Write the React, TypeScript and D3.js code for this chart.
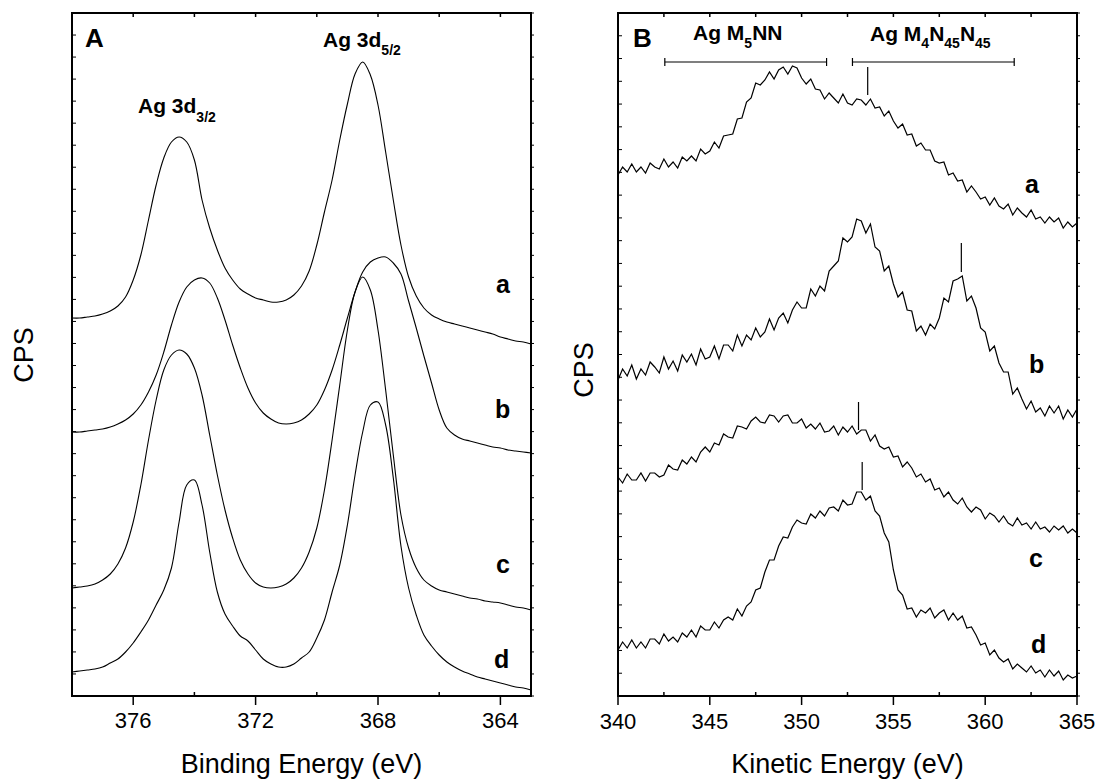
import React from 'react';
import * as d3 from 'd3';

// Panel A: binding energy grid (eV) and curves a-d (CPS, arbitrary offset units)
const BE_A: number[] = d3.range(61).map((i) => +(378 - i * 0.25).toFixed(2));
const A_a = [378,378,379,380,382,385,390,399,416,441,476,511,538,554,559,554,536,496,468,446,428,416,407,402,398,396,394,394,396,401,410,425,451,484,516,556,592,622,634,621,591,544,496,451,419,400,388,381,377,374,372,370,368,366,364,362,359,357,355,354,352];
const A_b = [264,264,265,266,267,269,272,276,282,291,304,321,344,371,394,409,416,418,413,398,376,351,328,308,293,283,277,273,272,273,276,282,291,306,326,351,378,404,424,434,438,439,433,422,395,368,340,313,286,268,261,257,255,253,251,249,248,246,245,244,243];
const A_c = [108,109,110,112,116,122,132,148,174,211,256,296,326,341,346,342,328,301,261,221,186,158,136,122,113,109,108,109,112,118,128,144,168,206,256,311,366,404,419,406,366,306,241,181,148,128,116,110,106,104,102,100,98,97,95,94,93,91,89,88,86];
const A_d = [24,25,26,27,29,33,37,44,53,64,76,91,106,128,174,211,216,191,144,104,82,70,60,55,46,37,32,29,29,32,38,44,58,76,104,131,171,221,264,291,294,271,218,150,108,81,61,50,41,34,29,25,22,19,17,15,13,11,9,8,6];

// Panel B: kinetic energy grid (eV) and curves a-d
const KE_B: number[] = d3.range(101).map((i) => 340 + i * 0.25);
const B_a = [
  521,529,524,532,524,529,523,533,529,527,
  537,529,534,528,539,535,540,535,547,542,
  545,554,548,560,561,562,577,578,594,598,
  613,611,616,624,617,626,629,622,630,628,
  618,612,617,607,606,597,603,598,593,602,
  593,591,597,596,591,597,588,589,580,585,
  575,568,572,561,562,550,553,546,546,535,
  533,534,521,523,515,516,504,510,504,497,
  499,491,498,490,487,492,481,488,483,479,
  486,477,479,473,479,474,478,468,474,469,
  473];
const B_b = [
  316,327,320,331,317,327,321,334,329,323,
  339,327,335,325,341,334,342,331,347,337,
  339,350,337,351,351,345,361,350,361,356,
  368,359,364,377,366,378,383,373,386,394,
  388,388,407,400,410,405,425,430,435,458,
  454,459,477,475,463,472,449,445,425,430,
  412,399,404,386,385,365,370,361,372,367,
  378,398,394,415,417,420,395,400,388,368,
  364,345,350,333,324,324,302,308,297,287,
  295,284,288,280,290,283,290,277,286,279,
  287];
const B_c = [
  219,213,222,216,216,223,215,223,223,219,
  221,231,227,226,236,232,239,234,244,249,
  244,253,251,262,259,258,270,269,267,275,
  279,274,273,281,280,274,280,281,273,273,
  277,268,272,267,273,264,265,270,261,269,
  264,270,262,266,266,255,261,250,247,249,
  239,240,229,234,228,219,222,214,217,206,
  208,199,204,196,192,198,189,184,189,186,
  177,183,180,174,180,173,170,178,171,173,
  167,174,167,169,164,170,166,170,163,167,
  163];
const B_d = [
  46,54,48,56,48,54,48,57,57,52,
  62,55,59,54,63,59,66,59,70,66,
  66,74,68,76,79,76,87,80,90,94,
  106,108,124,136,136,150,159,158,169,176,
  173,172,182,178,185,180,188,189,185,196,
  191,192,204,204,196,200,185,180,163,154,
  126,106,101,87,88,79,86,83,88,78,
  83,86,76,83,76,80,68,69,61,51,
  53,41,46,38,34,37,27,32,28,24,
  30,23,26,19,26,20,25,16,21,18,
  20];

// Axis ticks
const A_MAJOR = [376, 372, 368, 364];
const A_MINOR = [374, 370, 366];
const A_TOP = [376, 374, 372, 370, 368, 366, 364];
const B_MAJOR = [340, 345, 350, 355, 360, 365];
const B_MINOR = [342.5, 347.5, 352.5, 357.5, 362.5];
const B_TOP = [342.5, 345, 347.5, 350, 352.5, 355, 357.5, 360, 362.5];

// Panel B annotations (energy, CPS range)
const B_MARKS = [
  { e: 353.6, lo: 601, hi: 629 },
  { e: 358.7, lo: 424, hi: 453 },
  { e: 353.1, lo: 266, hi: 294 },
  { e: 353.3, lo: 206, hi: 234 },
];
const B_BRACKETS = [
  { from: 342.55, to: 351.36, level: 634 },
  { from: 352.77, to: 361.58, level: 634 },
];

const FONT = "'Liberation Sans', Arial, Helvetica, sans-serif";

export default function App() {
  const W = 1099, H = 781;
  const top = 13, bottom = 696;
  const y = d3.scaleLinear().domain([0, 683]).range([bottom, top]);
  const xA = d3.scaleLinear().domain([378, 363]).range([72, 531]);
  const xB = d3.scaleLinear().domain([340, 365]).range([618, 1077]);

  const lineA = d3.line<number>().x((_, i) => xA(BE_A[i])).y((v) => y(v)).curve(d3.curveCatmullRom);
  const lineB = d3.line<number>().x((_, i) => xB(KE_B[i])).y((v) => y(v));

  const yTicksA = d3.range(32).map((k) => (k * 683) / 31);
  const yTicksB = d3.range(31).map((k) => (k * 683) / 30);

  const frame = (x0: number, x1: number) => (
    <rect x={x0} y={top} width={x1 - x0} height={bottom - top} fill="none" stroke="#000" strokeWidth={2} />
  );

  const sideTicks = (x0: number, x1: number, ticks: number[]) => (
    <g stroke="#000" strokeWidth={1}>
      {ticks.map((t, i) => (
        <g key={i}>
          <line x1={x0} x2={x0 + 4} y1={y(t)} y2={y(t)} />
          <line x1={x1} x2={x1 + 3} y1={y(t)} y2={y(t)} />
        </g>
      ))}
    </g>
  );

  return (
    <svg width={W} height={H} style={{ position: 'absolute', left: 0, top: 0, background: '#fff' }} fontFamily={FONT}>
      <rect x={0} y={0} width={W} height={H} fill="#fff" />

      {/* ---------- Panel A ---------- */}
      <g>
        {[A_a, A_b, A_c, A_d].map((s, i) => (
          <path key={i} d={lineA(s) || ''} fill="none" stroke="#000" strokeWidth={1.1} />
        ))}
        {frame(72, 531)}
        {sideTicks(72, 531, yTicksA)}
        <g stroke="#000" strokeWidth={1.5}>
          {A_MAJOR.map((t) => (
            <line key={t} x1={xA(t)} x2={xA(t)} y1={bottom} y2={bottom + 9} />
          ))}
          {A_MINOR.map((t) => (
            <line key={t} x1={xA(t)} x2={xA(t)} y1={bottom} y2={bottom - 4} />
          ))}
          {A_TOP.map((t) => (
            <line key={t} x1={xA(t)} x2={xA(t)} y1={top} y2={top + 4} />
          ))}
        </g>
        <g fontSize={22} textAnchor="middle" fill="#000">
          {A_MAJOR.map((t) => (
            <text key={t} x={xA(t)} y={728}>{t}</text>
          ))}
        </g>
        <text x={301.5} y={773} fontSize={27} textAnchor="middle">Binding Energy (eV)</text>
        <text transform="translate(33,355) rotate(-90)" fontSize={27} textAnchor="middle">CPS</text>

        <text x={85} y={47} fontSize={26} fontWeight="bold">A</text>
        <text x={138} y={113} fontSize={21} fontWeight="bold">
          Ag 3d<tspan fontSize={14} dy={9}>3/2</tspan>
        </text>
        <text x={323} y={47} fontSize={21} fontWeight="bold">
          Ag 3d<tspan fontSize={14} dy={8}>5/2</tspan>
        </text>
        <g fontSize={25} fontWeight="bold">
          <text x={496} y={293}>a</text>
          <text x={495} y={418}>b</text>
          <text x={496} y={573}>c</text>
          <text x={494} y={668}>d</text>
        </g>
      </g>

      {/* ---------- Panel B ---------- */}
      <g>
        {[B_a, B_b, B_c, B_d].map((s, i) => (
          <path key={i} d={lineB(s) || ''} fill="none" stroke="#000" strokeWidth={1.2} />
        ))}
        {frame(618, 1077)}
        {sideTicks(618, 1077, yTicksB)}
        <g stroke="#000" strokeWidth={1.5}>
          {B_MAJOR.map((t) => (
            <line key={t} x1={xB(t)} x2={xB(t)} y1={bottom} y2={bottom + 9} />
          ))}
          {B_MINOR.map((t) => (
            <line key={t} x1={xB(t)} x2={xB(t)} y1={bottom} y2={bottom - 4} />
          ))}
          {B_TOP.map((t) => (
            <line key={t} x1={xB(t)} x2={xB(t)} y1={top} y2={top + 4} />
          ))}
        </g>
        <g fontSize={22} textAnchor="middle" fill="#000">
          {B_MAJOR.map((t) => (
            <text key={t} x={xB(t)} y={729}>{t}</text>
          ))}
        </g>
        <text x={847.5} y={773} fontSize={27} textAnchor="middle">Kinetic Energy (eV)</text>
        <text transform="translate(593,370) rotate(-90)" fontSize={27} textAnchor="middle">CPS</text>

        {/* brackets */}
        <g stroke="#000" strokeWidth={1.2}>
          {B_BRACKETS.map((b, i) => (
            <g key={i}>
              <line x1={xB(b.from)} x2={xB(b.to)} y1={y(b.level)} y2={y(b.level)} />
              <line x1={xB(b.from)} x2={xB(b.from)} y1={y(b.level) - 4} y2={y(b.level) + 4} />
              <line x1={xB(b.to)} x2={xB(b.to)} y1={y(b.level) - 4} y2={y(b.level) + 4} />
            </g>
          ))}
          {B_MARKS.map((m, i) => (
            <line key={i} x1={xB(m.e)} x2={xB(m.e)} y1={y(m.hi)} y2={y(m.lo)} />
          ))}
        </g>

        <text x={633} y={47} fontSize={26} fontWeight="bold">B</text>
        <text x={693} y={40} fontSize={21} fontWeight="bold">
          Ag M<tspan fontSize={14} dy={8}>5</tspan><tspan dy={-8}>NN</tspan>
        </text>
        <text x={870} y={41} fontSize={21} fontWeight="bold">
          Ag M<tspan fontSize={14} dy={7}>4</tspan><tspan dy={-7}>N</tspan>
          <tspan fontSize={14} dy={7}>45</tspan><tspan dy={-7}>N</tspan>
          <tspan fontSize={14} dy={7}>45</tspan>
        </text>
        <g fontSize={25} fontWeight="bold">
          <text x={1025} y={193}>a</text>
          <text x={1029} y={373}>b</text>
          <text x={1029} y={567}>c</text>
          <text x={1031} y={653}>d</text>
        </g>
      </g>
    </svg>
  );
}
